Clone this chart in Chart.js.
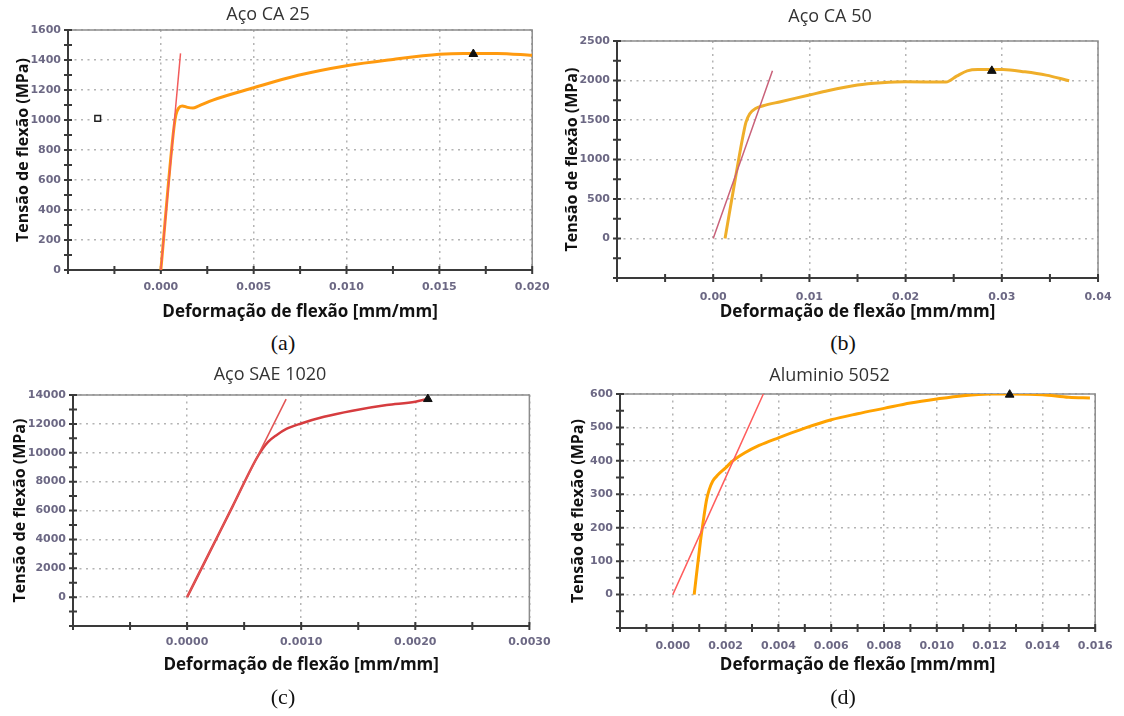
<!DOCTYPE html>
<html>
<head>
<meta charset="utf-8">
<script src="https://cdn.jsdelivr.net/npm/chart.js@4.4.1/dist/chart.umd.min.js"></script>
<style>
  body { margin: 0; background: #fff; width: 1124px; height: 716px; position: relative; overflow: hidden; }
  canvas { position: absolute; }
  .cap { position: absolute; font-family: "Liberation Serif", "Times New Roman", serif; font-size: 22px; color: #111; transform: translate(-50%, -50%); }
</style>
</head>
<body>
<canvas id="chartA" width="560" height="330" style="left:0;top:0"></canvas>
<canvas id="chartB" width="564" height="330" style="left:560px;top:0"></canvas>
<canvas id="chartC" width="560" height="330" style="left:0;top:360px"></canvas>
<canvas id="chartD" width="564" height="330" style="left:560px;top:360px"></canvas>
<div class="cap" style="left:283px;top:343px">(a)</div>
<div class="cap" style="left:843px;top:343px">(b)</div>
<div class="cap" style="left:283px;top:697px">(c)</div>
<div class="cap" style="left:843px;top:697px">(d)</div>
<script>
// (a) Aço CA 25
const ca25Strain = [0, 0.00067, 0.00081, 0.00096, 0.00115, 0.00144, 0.00173, 0.00202, 0.0028, 0.005, 0.0074, 0.010, 0.0125, 0.015, 0.0163, 0.0181, 0.020];
const ca25Stress = [0, 911, 1033, 1080, 1094, 1084, 1080, 1093, 1133, 1215, 1298, 1362, 1404, 1438, 1444, 1444, 1431];
const ca25TangentX = [0, 0.00106];
const ca25TangentY = [0, 1444];
const ca25PeakX = [0.01683];
const ca25PeakY = [1440];
const ca25MarkX = [-0.0034];
const ca25MarkY = [1011];

// (b) Aço CA 50
const ca50Strain = [0.00123, 0.0025, 0.0031, 0.0034, 0.0038, 0.0044, 0.0052, 0.007, 0.010, 0.0119, 0.015, 0.0175, 0.020, 0.0242, 0.0253, 0.0264, 0.0275, 0.0301, 0.0324, 0.0346, 0.037];
const ca50Stress = [0, 900, 1300, 1470, 1580, 1645, 1680, 1732, 1816, 1871, 1942, 1971, 1984, 1980, 2055, 2122, 2139, 2139, 2110, 2068, 1997];
const ca50TangentX = [0, 0.00616];
const ca50TangentY = [0, 2122];
const ca50PeakX = [0.02896];
const ca50PeakY = [2122];

// (c) Aço SAE 1020
const saeStrain = [0, 0.0002, 0.0004, 0.0006, 0.00066, 0.00071, 0.00078, 0.00087, 0.001, 0.0012, 0.00145, 0.00175, 0.002, 0.0021];
const saeStress = [0, 3150, 6300, 9480, 10250, 10750, 11200, 11650, 12030, 12490, 12910, 13300, 13530, 13720];
const saeTangentX = [0, 0.000868];
const saeTangentY = [0, 13720];
const saePeakX = [0.00211];
const saePeakY = [13720];

// (d) Aluminio 5052
const alStrain = [0.00081, 0.00104, 0.00118, 0.00128, 0.00138, 0.00151, 0.00172, 0.002, 0.00226, 0.00273, 0.00327, 0.004, 0.005, 0.006, 0.007, 0.008, 0.009, 0.010, 0.011, 0.012, 0.0128, 0.014, 0.015, 0.0158];
const alStress = [0, 155, 234, 284, 314, 339, 359, 379, 399, 424, 446, 469, 498, 523, 541, 557, 573, 585, 595, 600, 600, 598, 590, 588];
const alTangentX = [0, 0.00343];
const alTangentY = [0, 600];
const alPeakX = [0.01276];
const alPeakY = [598];

const xTitle = 'Deformação de flexão [mm/mm]';
const yTitle = 'Tensão de flexão (MPa)';

const pts = (xs, ys) => xs.map((x, i) => ({ x: x, y: ys[i] }));
const isMajor = (v, m) => Math.abs(v / m - Math.round(v / m)) < 1e-6;

function curve(xs, ys, color, width, order) {
  return { data: pts(xs, ys), showLine: true, borderColor: color, borderWidth: width,
           pointRadius: 0, cubicInterpolationMode: 'monotone', order: order };
}
function peak(xs, ys) {
  return { data: pts(xs, ys), pointStyle: 'triangle', pointRadius: 5, backgroundColor: '#111',
           borderColor: '#111', borderWidth: 1, clip: false, order: 0 };
}

// box around plot area plus tick marks crossing the axes
const framePlugin = {
  id: 'frame',
  beforeDatasetsDraw(chart) {
    const { ctx, chartArea: a, scales } = chart;
    ctx.save();
    ctx.lineWidth = 1.5;
    ctx.strokeStyle = '#8c8c8c';
    ctx.strokeRect(a.left, a.top, a.right - a.left, a.bottom - a.top);
    ctx.strokeStyle = '#3a3a3a';
    ctx.lineWidth = 2;
    ctx.beginPath();
    ctx.moveTo(a.left, a.top);
    ctx.lineTo(a.left, a.bottom);
    ctx.lineTo(a.right, a.bottom);
    scales.x.ticks.forEach(t => {
      const px = scales.x.getPixelForValue(t.value);
      ctx.moveTo(px, a.bottom - 4);
      ctx.lineTo(px, a.bottom + 4);
    });
    scales.y.ticks.forEach(t => {
      const py = scales.y.getPixelForValue(t.value);
      ctx.moveTo(a.left - 4, py);
      ctx.lineTo(a.left + 4, py);
    });
    ctx.stroke();
    ctx.restore();
  }
};

const tickFont = { family: 'DejaVu Sans', size: 11, weight: 'bold' };
const tickColor = '#6c6884';
const xAxisFont = { family: 'Open Sans', size: 17, weight: 'bold' };
const yAxisFont = { family: 'Open Sans', size: 16, weight: 'bold' };
const gridColor = '#b4b4b4';

function makePanel(id, p) {
  new Chart(document.getElementById(id), {
    type: 'scatter',
    data: { datasets: p.datasets },
    plugins: [framePlugin],
    options: {
      responsive: false,
      animation: false,
      events: [],
      layout: { padding: { left: 0, top: 0, right: p.padR, bottom: 0 } },
      plugins: {
        legend: { display: false },
        tooltip: { enabled: false },
        title: { display: true, text: p.title, color: '#333',
                 font: { family: 'Open Sans', size: 18, weight: 'normal' },
                 padding: { top: p.titleTop, bottom: p.titleBottom } }
      },
      scales: {
        x: {
          type: 'linear', min: p.xMin, max: p.xMax,
          afterFit: s => { s.height = p.xH; },
          border: { display: false, dash: [2, 4.5] },
          grid: { drawTicks: false, lineWidth: 1.5,
                  color: c => isMajor(c.tick.value, p.xMajor) ? gridColor : 'rgba(0,0,0,0)' },
          ticks: { stepSize: p.xStep, autoSkip: false, maxRotation: 0, padding: p.xTickPad,
                   font: tickFont, color: tickColor,
                   callback: v => (isMajor(v, p.xMajor) && v > -1e-9) ? (Math.abs(v) < 1e-12 ? 0 : v).toFixed(p.xDec) : '' },
          title: { display: true, text: xTitle, color: '#111', font: xAxisFont,
                   padding: { top: 0, bottom: p.xTitlePad } }
        },
        y: {
          type: 'linear', position: 'left', min: p.yMin, max: p.yMax,
          afterFit: s => { s.width = p.yW; },
          border: { display: false, dash: [2, 4.5] },
          grid: { drawTicks: false, lineWidth: 1.5,
                  color: c => isMajor(c.tick.value, p.yMajor) ? gridColor : 'rgba(0,0,0,0)' },
          ticks: { stepSize: p.yStep, autoSkip: false, padding: 7,
                   font: tickFont, color: tickColor,
                   callback: v => (isMajor(v, p.yMajor) && v >= 0) ? String(Math.round(v)) : '' },
          title: { display: true, text: yTitle, color: '#111', font: yAxisFont,
                   padding: { top: p.yTitlePad, bottom: 0 } }
        }
      }
    }
  });
}

makePanel('chartA', {
  title: 'Aço CA 25', padR: 24, titleTop: 4.2, titleBottom: 4.2,
  xMin: -0.005, xMax: 0.020, xStep: 0.0025, xMajor: 0.005, xDec: 3, xH: 60, xTickPad: 10.4, xTitlePad: 7.8,
  yMin: 0, yMax: 1600, yStep: 100, yMajor: 200, yW: 68, yTitlePad: 13.4,
  datasets: [
    curve(ca25TangentX, ca25TangentY, '#f25c5c', 1.5, 1),
    curve(ca25Strain, ca25Stress, '#ff9a0f', 3, 2),
    peak(ca25PeakX, ca25PeakY),
    { data: pts(ca25MarkX, ca25MarkY), pointStyle: 'rect', pointRadius: 4, backgroundColor: '#fff',
      borderColor: '#222', borderWidth: 1.5, order: 0 }
  ]
});

makePanel('chartB', {
  title: 'Aço CA 50', padR: 24, titleTop: 6.2, titleBottom: 13.2,
  xMin: -0.01, xMax: 0.04, xStep: 0.005, xMajor: 0.01, xDec: 2, xH: 52, xTickPad: 12.4, xTitlePad: 7.8,
  yMin: -500, yMax: 2500, yStep: 250, yMajor: 500, yW: 57, yTitlePad: 2.9,
  datasets: [
    curve(ca50TangentX, ca50TangentY, '#c9627a', 1.5, 1),
    curve(ca50Strain, ca50Stress, '#efae2a', 3, 2),
    peak(ca50PeakX, ca50PeakY)
  ]
});

makePanel('chartC', {
  title: 'Aço SAE 1020', padR: 20, titleTop: 4.2, titleBottom: 9.2,
  xMin: -0.001, xMax: 0.003, xStep: 0.0005, xMajor: 0.001, xDec: 4, xH: 64, xTickPad: 9.4, xTitlePad: 14.8,
  yMin: -2000, yMax: 14000, yStep: 1000, yMajor: 2000, yW: 73, yTitlePad: 10.4,
  datasets: [
    curve(saeTangentX, saeTangentY, '#e25454', 1.5, 1),
    curve(saeStrain, saeStress, '#d63c3f', 2.5, 2),
    peak(saePeakX, saePeakY)
  ]
});

makePanel('chartD', {
  title: 'Aluminio 5052', padR: 25, titleTop: 5.2, titleBottom: 7.2,
  xMin: -0.002, xMax: 0.016, xStep: 0.001, xMajor: 0.002, xDec: 3, xH: 62, xTickPad: 11.4, xTitlePad: 14.8,
  yMin: -100, yMax: 600, yStep: 50, yMajor: 100, yW: 60, yTitlePad: 9,
  datasets: [
    curve(alTangentX, alTangentY, '#ff5e5e', 1.5, 1),
    curve(alStrain, alStress, '#ffa200', 3, 2),
    peak(alPeakX, alPeakY)
  ]
});
</script>
</body>
</html>
